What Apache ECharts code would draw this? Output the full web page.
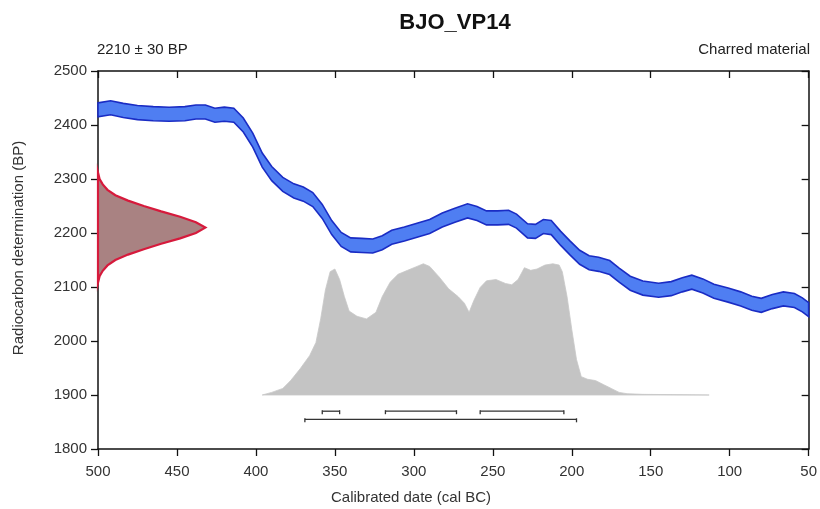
<!DOCTYPE html>
<html>
<head>
<meta charset="utf-8">
<script src="https://cdn.jsdelivr.net/npm/echarts@6/dist/echarts.min.js"></script>
<style>
    html, body { margin: 0; padding: 0; background: #fff; }
    #chart { width: 820px; height: 509px; }
</style>
</head>
<body>
<div id="chart"></div>
<script>
// calibration curve (cal BC -> BP), band is +/- curveSigma
var curveYears = [500, 492, 484, 475, 465, 455, 445, 438, 432, 426, 420, 414, 408, 402, 396, 390, 383, 376, 370, 364,
    358, 352, 346, 340, 333, 326, 320, 314, 306, 298, 290, 282, 274, 266, 260, 254, 247, 240, 235, 228,
    223, 218, 213, 207, 201, 195, 189, 183, 176, 170, 163, 155, 145, 137, 130, 124, 117, 110, 101, 93,
    86, 80, 73, 66, 59, 54, 50];
var curveBP = [2428, 2432, 2427, 2423, 2421, 2420, 2421, 2424, 2424, 2418, 2420, 2418, 2400, 2372, 2335, 2310, 2290, 2278, 2272, 2262,
    2240, 2210, 2188, 2178, 2177, 2176, 2182, 2192, 2198, 2205, 2212, 2224, 2233, 2241, 2236, 2228, 2228, 2229, 2222, 2204,
    2203, 2212, 2210, 2190, 2172, 2155, 2145, 2142, 2136, 2122, 2107, 2098, 2094, 2097, 2104, 2109, 2102, 2092, 2085, 2078,
    2070, 2066, 2073, 2078, 2075, 2067, 2058];
var curveSigma = 13;

// radiocarbon measurement 2210 +/- 30 BP: BP level and width of the curve (years in from 500)
var measBP = [2312, 2300, 2290, 2280, 2270, 2260, 2250, 2240, 2230, 2220, 2210, 2200, 2190, 2180, 2170, 2160, 2150, 2140, 2130, 2120, 2108];
var measWidth = [0, 1, 3, 6, 11, 19, 29, 40, 52, 62, 68, 62, 52, 40, 29, 19, 11, 6, 3, 1, 0];

// calibrated probability (relative)
var probYears = [396, 390, 383, 378, 372, 366, 362, 359, 356, 353, 350, 347, 344, 341, 336, 330, 324, 320, 315, 310,
    304, 298, 294, 290, 284, 278, 272, 268, 265, 262, 258, 254, 248, 242, 238, 234, 230, 226, 222, 217,
    212, 208, 206, 203, 200, 197, 194, 190, 185, 180, 175, 170, 165, 155, 113];
var probValues = [0, 0.02, 0.05, 0.11, 0.2, 0.3, 0.4, 0.58, 0.8, 0.94, 0.96, 0.88, 0.75, 0.64, 0.6, 0.58, 0.63, 0.75, 0.86, 0.92,
    0.95, 0.98, 1.0, 0.98, 0.9, 0.81, 0.75, 0.7, 0.63, 0.72, 0.82, 0.87, 0.88, 0.85, 0.84, 0.88, 0.97, 0.95, 0.96, 0.99,
    1.0, 0.99, 0.94, 0.75, 0.5, 0.27, 0.14, 0.12, 0.11, 0.08, 0.05, 0.02, 0.01, 0.005, 0];

// ranges
var range68 = [[358, 347], [318, 273], [258, 205]];
var range95 = [[369, 197]];

var probBase = 1900, probScale = 243;

var myChart = echarts.init(document.getElementById('chart'));

function polygonSeries(getPoints, style, z) {
    return {
        type: 'custom',
        coordinateSystem: 'cartesian2d',
        data: [[300, 2000]],
        z: z,
        silent: true,
        renderItem: function (params, api) {
            return {
                type: 'polygon',
                shape: { points: getPoints(api) },
                style: style
            };
        }
    };
}

var probSeries = polygonSeries(function (api) {
    var pts = [];
    for (var i = 0; i < probYears.length; i++) {
        pts.push(api.coord([probYears[i], probBase + probValues[i] * probScale]));
    }
    pts.push(api.coord([probYears[probYears.length - 1], probBase]));
    pts.push(api.coord([probYears[0], probBase]));
    return pts;
}, { fill: '#c4c4c4', stroke: '#c8c8c8', lineWidth: 0.8 }, 1);

var measSeries = polygonSeries(function (api) {
    var pts = [];
    for (var i = 0; i < measBP.length; i++) {
        pts.push(api.coord([500 - measWidth[i], measBP[i]]));
    }
    return pts;
}, { fill: '#a98282', stroke: '#d61a3c', lineWidth: 2.2 }, 2);

var curveSeries = polygonSeries(function (api) {
    var pts = [];
    for (var i = 0; i < curveYears.length; i++) {
        pts.push(api.coord([curveYears[i], curveBP[i] + curveSigma]));
    }
    for (var j = curveYears.length - 1; j >= 0; j--) {
        pts.push(api.coord([curveYears[j], curveBP[j] - curveSigma]));
    }
    return pts;
}, { fill: '#4f7ef2', stroke: '#1a2cc4', lineWidth: 1.6 }, 3);

function rangeSeries(ranges, level) {
    return {
        type: 'custom',
        coordinateSystem: 'cartesian2d',
        data: ranges,
        z: 4,
        silent: true,
        renderItem: function (params, api) {
            var a = api.coord([api.value(0), level]);
            var b = api.coord([api.value(1), level]);
            var st = { stroke: '#333', lineWidth: 1.3 };
            return {
                type: 'group',
                children: [
                    { type: 'line', shape: { x1: a[0], y1: a[1], x2: b[0], y2: b[1] }, style: st },
                    { type: 'line', shape: { x1: a[0], y1: a[1] - 1, x2: a[0], y2: a[1] + 3 }, style: st },
                    { type: 'line', shape: { x1: b[0], y1: b[1] - 1, x2: b[0], y2: b[1] + 3 }, style: st }
                ]
            };
        }
    };
}

var axisLine = { show: true, lineStyle: { color: '#111', width: 1.5 } };
var tickOut = { show: true, length: 7, lineStyle: { color: '#111', width: 1.3 } };
var tickIn = { show: true, inside: true, length: 7, lineStyle: { color: '#111', width: 1.3 } };
var labelStyle = { color: '#333', fontSize: 15, fontFamily: 'Liberation Sans', formatter: function (v) { return String(v); } };

var option = {
    backgroundColor: '#fff',
    animation: false,
    grid: { left: 98, right: 10, top: 71, bottom: 60 },
    xAxis: [{
        type: 'value', min: 50, max: 500, interval: 50, inverse: true, position: 'bottom',
        axisLine: axisLine, axisTick: tickOut, splitLine: { show: false },
        axisLabel: Object.assign({ margin: 15 }, labelStyle)
    }, {
        type: 'value', min: 50, max: 500, interval: 50, inverse: true, position: 'top',
        axisLine: axisLine, axisTick: tickIn, splitLine: { show: false },
        axisLabel: { show: false }
    }],
    yAxis: [{
        type: 'value', min: 1800, max: 2500, interval: 100, position: 'left',
        axisLine: axisLine, axisTick: tickOut, splitLine: { show: false },
        axisLabel: Object.assign({ margin: 11 }, labelStyle)
    }, {
        type: 'value', min: 1800, max: 2500, interval: 100, position: 'right',
        axisLine: axisLine, axisTick: tickIn, splitLine: { show: false },
        axisLabel: { show: false }
    }],
    graphic: [
        { type: 'text', x: 455, y: 12, style: { text: 'BJO_VP14', fill: '#111', font: 'bold 22px Liberation Sans', textAlign: 'center', textVerticalAlign: 'top' } },
        { type: 'text', x: 97, y: 50, style: { text: '2210 ± 30 BP', fill: '#222', font: '15px Liberation Sans', textVerticalAlign: 'middle' } },
        { type: 'text', x: 810, y: 50, style: { text: 'Charred material', fill: '#222', font: '15px Liberation Sans', textAlign: 'right', textVerticalAlign: 'middle' } },
        { type: 'text', x: 411, y: 498, style: { text: 'Calibrated date (cal BC)', fill: '#333', font: '15px Liberation Sans', textAlign: 'center', textVerticalAlign: 'middle' } },
        { type: 'text', x: 19, y: 248, rotation: Math.PI / 2, style: { text: 'Radiocarbon determination (BP)', fill: '#333', font: '15px Liberation Sans', textAlign: 'center', textVerticalAlign: 'middle' } }
    ],
    series: [
        probSeries,
        measSeries,
        curveSeries,
        rangeSeries(range68, 1870),
        rangeSeries(range95, 1855)
    ]
};

myChart.setOption(option);
</script>
</body>
</html>
